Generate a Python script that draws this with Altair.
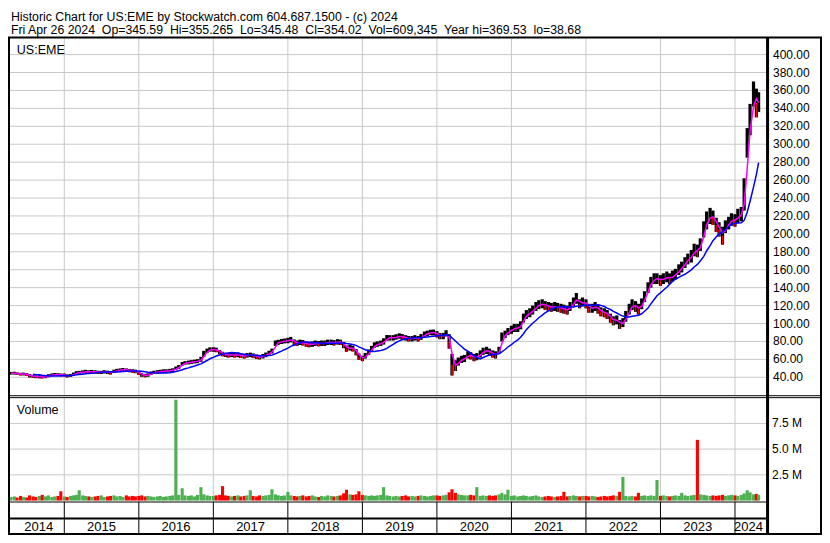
import datetime as dt
import altair as alt
import pandas as pd
import numpy as np

# ---------------- text ----------------
TITLE = "Historic Chart for US:EME by Stockwatch.com 604.687.1500 - (c) 2024"
QUOTE = ["Fri Apr 26 2024", "Op=345.59", "Hi=355.265", "Lo=345.48", "Cl=354.02",
         "Vol=609,345", "Year hi=369.53", "lo=38.68"]
SYMBOL = "US:EME"
VOL_TITLE = "Volume"

# ---------------- data (semi-monthly) ----------------
hi_2014 = [46.0, 46.2, 45.5, 45.0, 45.2, 44.6, 43.5, 42.8, 42.0, 42.3, 41.6, 42.0, 43.4, 44.3, 44.8, 44.6, 44.2]
lo_2014 = [43.0, 43.1, 42.6, 42.0, 42.1, 41.5, 39.8, 39.3, 39.0, 38.8, 38.7, 39.0, 40.0, 41.0, 41.5, 41.4, 40.9]
hi_2015 = [44.2, 43.3, 43.6, 45.3, 46.8, 47.2, 47.7, 48.3, 47.8, 48.2, 47.8, 47.3, 47.2, 47.9, 47.4, 47.0, 48.4, 49.4, 49.9, 50.3, 49.9, 49.3, 48.9, 48.5]
lo_2015 = [40.9, 39.8, 40.4, 41.8, 43.3, 43.8, 44.3, 44.8, 44.2, 44.8, 44.3, 43.7, 43.8, 44.2, 43.6, 43.1, 44.7, 45.7, 46.2, 46.8, 46.2, 45.7, 45.1, 44.6]
hi_2016 = [46.4, 44.5, 43.9, 44.4, 46.4, 47.3, 47.9, 48.4, 48.9, 48.9, 49.4, 50.0, 52.0, 53.6, 57.0, 58.0, 58.6, 59.1, 59.6, 60.2, 62.8, 69.5, 72.0, 73.4]
lo_2016 = [42.6, 40.5, 40.1, 40.6, 42.6, 43.7, 44.1, 44.6, 45.1, 45.1, 45.6, 46.0, 48.0, 49.4, 53.0, 54.0, 54.4, 54.9, 55.4, 55.8, 57.2, 62.5, 67.0, 68.6]
hi_2017 = [73.5, 73.0, 70.5, 68.5, 67.4, 67.0, 67.5, 67.0, 67.6, 66.5, 66.0, 67.0, 67.5, 66.6, 65.5, 65.0, 66.0, 67.6, 69.6, 72.0, 81.0, 81.8, 82.8, 83.2]
lo_2017 = [68.5, 68.0, 65.5, 63.5, 62.6, 62.0, 62.5, 62.0, 62.4, 61.5, 61.0, 62.0, 62.5, 61.4, 60.5, 60.0, 61.0, 62.4, 64.4, 66.5, 75.0, 76.2, 77.2, 77.8]
hi_2018 = [84.0, 85.0, 82.2, 81.0, 82.0, 81.5, 80.0, 79.5, 80.0, 81.0, 80.5, 81.0, 81.0, 82.0, 82.0, 81.5, 82.5, 82.0, 79.5, 75.5, 76.2, 75.2, 71.5, 66.5]
lo_2018 = [78.0, 79.0, 75.8, 75.0, 76.0, 75.5, 74.0, 73.5, 74.0, 75.0, 74.5, 75.0, 75.0, 76.0, 76.0, 75.5, 76.5, 76.0, 72.5, 68.5, 69.8, 68.8, 64.5, 59.5]
hi_2019 = [64.0, 67.2, 71.0, 75.0, 79.0, 80.0, 81.0, 83.5, 87.2, 87.0, 87.0, 88.0, 89.0, 88.2, 87.0, 86.0, 86.0, 87.0, 86.0, 88.2, 91.0, 92.0, 93.0, 93.2]
lo_2019 = [58.0, 60.8, 65.0, 69.0, 73.0, 74.0, 75.0, 76.5, 80.8, 81.0, 81.0, 82.0, 83.0, 81.8, 81.0, 80.0, 80.0, 81.0, 80.0, 81.8, 85.0, 86.0, 87.0, 86.8]
hi_2020 = [91.5, 89.5, 89.5, 92.5, 88.0, 66.0, 59.0, 62.0, 64.0, 65.0, 69.0, 68.0, 66.0, 67.0, 70.0, 73.0, 74.0, 72.0, 70.0, 69.0, 74.0, 90.0, 92.0, 95.0]
lo_2020 = [84.5, 82.5, 82.5, 85.5, 72.0, 42.0, 47.0, 53.0, 56.0, 57.0, 61.0, 60.0, 58.0, 59.0, 62.0, 65.0, 66.0, 64.0, 62.0, 61.0, 66.0, 80.0, 84.0, 87.0]
hi_2021 = [97.5, 99.5, 99.5, 102.5, 111.0, 115.0, 117.0, 120.0, 124.0, 126.0, 127.0, 125.0, 124.0, 123.0, 124.0, 123.0, 122.0, 121.0, 120.0, 124.0, 129.0, 134.0, 127.0, 129.0]
lo_2021 = [88.5, 90.5, 90.5, 93.5, 101.0, 105.0, 107.0, 110.0, 114.0, 116.0, 117.0, 115.0, 114.0, 113.0, 114.0, 113.0, 112.0, 111.0, 110.0, 114.0, 119.0, 122.0, 117.0, 119.0]
hi_2022 = [127, 122, 122, 124, 121, 118, 117, 115, 111, 108, 109, 104, 106, 114, 122, 127, 125, 122, 128, 136, 146, 152, 156, 156]
lo_2022 = [117, 112, 112, 114, 111, 108, 107, 105, 101, 98, 99, 94, 96, 102, 110, 115, 113, 110, 116, 124, 134, 140, 144, 144]
hi_2023 = [154, 156, 158, 156, 159, 161, 166, 169, 174, 178, 182, 189, 188, 195, 214, 225, 229, 226, 218, 213, 208, 215, 219, 223]
lo_2023 = [142, 144, 146, 144, 147, 149, 154, 157, 162, 166, 168, 175, 174, 181, 196, 205, 211, 210, 202, 197, 188, 201, 205, 209]
hi_2024 = [222, 228, 230, 262, 318, 345, 370, 362, 358]
lo_2024 = [208, 212, 214, 226, 285, 310, 342, 330, 336]

# volume, millions of shares
vol_2014 = [0.35, 0.4, 0.3, 0.45, 0.35, 0.3, 0.5, 0.4, 0.35, 0.45, 0.55, 0.4, 0.5, 0.35, 0.4, 0.45, 0.9]
vol_2015 = [0.4, 0.35, 0.45, 0.5, 0.55, 1.0, 0.5, 0.45, 0.4, 0.35, 0.4, 0.45, 0.5, 0.35, 0.4, 0.45, 0.5, 0.4, 0.45, 0.35, 0.5, 0.4, 0.45, 0.4]
vol_2016 = [0.45, 0.5, 0.4, 0.45, 0.4, 0.35, 0.4, 0.45, 0.35, 0.4, 0.45, 0.5, 9.8, 0.55, 1.2, 0.5, 0.45, 0.5, 0.4, 0.55, 1.3, 0.6, 0.5, 0.45]
vol_2017 = [0.45, 0.5, 0.55, 1.4, 0.5, 0.45, 0.4, 0.45, 0.5, 0.4, 0.45, 0.5, 1.0, 0.45, 0.4, 0.5, 0.45, 0.5, 0.55, 1.1, 0.6, 0.5, 0.45, 0.5]
vol_2018 = [0.85, 0.5, 0.45, 0.4, 0.45, 0.5, 0.4, 0.45, 0.5, 0.4, 0.35, 0.45, 0.4, 0.5, 0.45, 0.4, 0.45, 0.5, 0.7, 1.05, 0.6, 0.55, 0.6, 0.9]
vol_2019 = [0.55, 0.5, 0.45, 0.5, 0.45, 0.5, 0.55, 1.3, 0.5, 0.45, 0.4, 0.45, 0.4, 0.45, 0.5, 0.4, 0.45, 0.4, 0.45, 0.5, 0.45, 0.4, 0.45, 0.5]
vol_2020 = [0.5, 0.45, 0.5, 0.55, 0.8, 1.1, 0.75, 0.6, 0.55, 0.5, 0.5, 0.55, 0.5, 1.3, 0.45, 0.5, 0.45, 0.5, 0.45, 0.5, 0.6, 0.75, 0.6, 1.05]
vol_2021 = [0.45, 0.5, 0.4, 0.45, 0.5, 0.45, 0.4, 0.45, 0.5, 0.4, 0.35, 0.4, 0.45, 0.4, 0.35, 0.4, 0.45, 0.85, 0.4, 0.45, 0.5, 0.45, 0.4, 0.45]
vol_2022 = [0.45, 0.4, 0.45, 0.4, 0.35, 0.4, 0.45, 0.4, 0.45, 0.5, 0.45, 0.85, 2.3, 0.45, 0.4, 0.45, 0.4, 0.75, 0.45, 0.5, 0.45, 0.5, 0.45, 2.0]
vol_2023 = [0.45, 0.5, 0.45, 0.4, 0.45, 0.5, 0.45, 0.75, 0.5, 0.45, 0.5, 0.55, 5.9, 0.6, 0.55, 0.5, 0.45, 0.5, 0.45, 0.5, 0.55, 0.45, 0.5, 0.55]
vol_2024 = [0.5, 0.45, 0.55, 0.7, 1.0, 0.8, 0.6, 0.65, 0.55]

YEARS = list(range(2014, 2025))
PRICE_TICKS = list(range(40, 401, 20))
VOL_TICKS = [2.5, 5.0, 7.5]
VOL_LABELS = ["2.5 M", "5.0 M", "7.5 M"]

# ---------------- build table ----------------
dates = [(2014, 4, 15)]
for y in range(2014, 2025):
    for m in range(1, 13):
        if (2014, 5) <= (y, m) <= (2024, 4):
            dates += [(y, m, 1), (y, m, 15)]
dates.append((2024, 4, 26))


def frac_year(y, m, d):
    d0 = dt.date(y, 1, 1)
    n = (dt.date(y + 1, 1, 1) - d0).days
    return y + (dt.date(y, m, d) - d0).days / n


hi = hi_2014 + hi_2015 + hi_2016 + hi_2017 + hi_2018 + hi_2019 + hi_2020 + hi_2021 + hi_2022 + hi_2023 + hi_2024
lo = lo_2014 + lo_2015 + lo_2016 + lo_2017 + lo_2018 + lo_2019 + lo_2020 + lo_2021 + lo_2022 + lo_2023 + lo_2024
vol = vol_2014 + vol_2015 + vol_2016 + vol_2017 + vol_2018 + vol_2019 + vol_2020 + vol_2021 + vol_2022 + vol_2023 + vol_2024

df = pd.DataFrame({"t": [frac_year(*d) for d in dates], "hi": hi, "lo": lo, "vol": vol})
df["mid"] = (df["hi"] + df["lo"]) / 2
df["dir"] = np.where(df["mid"].diff().fillna(0) >= 0, "up", "down")
df["idx"] = range(len(df))

# ---------------- geometry (reference pixel grid 830x543 scaled to fit) ----------------
W, H = 814, 527
SX, SY = W / 830, H / 543


def px(v):
    return v * SX


def py(v):
    return v * SY


FONT = "Liberation Sans"
GRID = "#c8c8c8"
T0 = 2015 - 53 / 77
T1 = 2015 + (774 - 53) / 77

XS = alt.Scale(domain=[T0, T1], range=[0, px(774)], nice=False, zero=False)
PS = alt.Scale(domain=[40, 400], range=[py(380.5), py(48)], nice=False, zero=False)
VS = alt.Scale(domain=[0, 10], range=[py(507.5), py(401.5)], nice=False, zero=False)

X = alt.X("t:Q", scale=XS, axis=None)

base = alt.Chart(df)
years_df = pd.DataFrame({"t": YEARS[1:]})

vgrid_p = alt.Chart(years_df).mark_rule(color=GRID, strokeWidth=1).encode(
    x=X, y=alt.value(py(31)), y2=alt.value(py(399)))
vgrid_v = alt.Chart(years_df).mark_rule(color=GRID, strokeWidth=1).encode(
    x=X, y=alt.value(py(402)), y2=alt.value(py(509)))
hgrid_p = alt.Chart(pd.DataFrame({"p": PRICE_TICKS})).mark_rule(color=GRID, strokeWidth=1).encode(
    y=alt.Y("p:Q", scale=PS, axis=None), x=alt.value(0), x2=alt.value(px(774)))
hgrid_v = alt.Chart(pd.DataFrame({"v": VOL_TICKS})).mark_rule(color=GRID, strokeWidth=1).encode(
    y=alt.Y("v:Q", scale=VS, axis=None), x=alt.value(0), x2=alt.value(px(774)))

vol_bars = base.mark_bar(size=3.1).encode(
    x=X,
    y=alt.Y("vol:Q", scale=VS, axis=None),
    color=alt.Color("dir:N", scale=alt.Scale(domain=["up", "down"], range=["#4caf50", "#ff0000"]), legend=None),
)

price_bars = base.mark_rule(color="black", strokeWidth=3.2).encode(
    x=X, y=alt.Y("lo:Q", scale=PS, axis=None), y2="hi:Q")
price_red = base.transform_filter("datum.dir == 'down'").mark_rule(color="#ff0000", strokeWidth=1.4).encode(
    x=X, y=alt.Y("lo:Q", scale=PS, axis=None), y2="mid:Q")

ma_fast = base.transform_window(ma="mean(mid)", frame=[-1, 0], sort=[alt.SortField("t")]).mark_line(
    color="#ff00ff", strokeWidth=1.5).encode(x=X, y=alt.Y("ma:Q", scale=PS, axis=None))
ma_slow = base.transform_window(ma="mean(mid)", frame=[-9, 0], sort=[alt.SortField("t")]).transform_filter(
    "datum.idx >= 7").mark_line(color="#0000ff", strokeWidth=1.5).encode(
    x=X, y=alt.Y("ma:Q", scale=PS, axis=None))

price_labels = alt.Chart(pd.DataFrame({"p": PRICE_TICKS, "label": [f"{p:.2f}" for p in PRICE_TICKS]})).mark_text(
    align="left", baseline="middle", font=FONT, fontSize=12, color="black").encode(
    y=alt.Y("p:Q", scale=PS, axis=None), x=alt.value(px(780)), text="label:N")
vol_labels = alt.Chart(pd.DataFrame({"v": VOL_TICKS, "label": VOL_LABELS})).mark_text(
    align="left", baseline="middle", font=FONT, fontSize=12, color="black").encode(
    y=alt.Y("v:Q", scale=VS, axis=None), x=alt.value(px(779)), text="label:N")

centers = [(max(y, T0) + min(y + 1, T1)) / 2 for y in YEARS]
year_labels = alt.Chart(pd.DataFrame({"tc": centers, "label": [str(y) for y in YEARS]})).mark_text(
    align="center", baseline="middle", font=FONT, fontSize=13, color="black").encode(
    x=alt.X("tc:Q", scale=XS, axis=None), y=alt.value(py(535)), text="label:N")
year_ticks = alt.Chart(years_df).mark_rule(color="black", strokeWidth=1).encode(
    x=X, y=alt.value(py(509)), y2=alt.value(py(542)))


def label(txt, x, y, size=12.3):
    return alt.Chart(pd.DataFrame({"s": [txt]})).mark_text(
        align="left", baseline="alphabetic", font=FONT, fontSize=size, color="black").encode(
        x=alt.value(px(x)), y=alt.value(py(y)), text="s:N")


def hline(y, x1, x2, w=1):
    return alt.Chart(alt.Data(values=[{}])).mark_rule(color="black", strokeWidth=w).encode(
        x=alt.value(px(x1)), x2=alt.value(px(x2)), y=alt.value(py(y)))


def vline(x, y1, y2, w=1):
    return alt.Chart(alt.Data(values=[{}])).mark_rule(color="black", strokeWidth=w).encode(
        x=alt.value(px(x)), y=alt.value(py(y1)), y2=alt.value(py(y2)))


header1 = label(TITLE, 3, 13)
header2 = label("\u00a0\u00a0".join(QUOTE), 3, 26.5)
sym = label(SYMBOL, 9, 47, 12.5)
vol_t = label(VOL_TITLE, 9, 418, 12.5)

frame = [
    hline(30.5, 0, 830, 2),
    hline(399.5, 0, 830, 1),
    hline(401.5, 0, 830, 1),
    hline(509, 0, 774, 1),
    hline(526, 0, 774, 2),
    hline(542, 0, 830, 2),
    vline(1, 30, 543, 2),
    vline(829, 30, 543, 2),
    vline(774.5, 30, 543, 3),
]

chart = alt.layer(
    vgrid_p, vgrid_v, hgrid_p, hgrid_v,
    vol_bars, price_bars, price_red, ma_fast, ma_slow,
    price_labels, vol_labels, year_labels, year_ticks,
    header1, header2, sym, vol_t, *frame,
).resolve_scale(y="independent").properties(
    width=W, height=H, padding=0, autosize="none", background="white"
).configure_view(stroke=None)

chart.save("out.html", embed_options={"renderer": "svg", "actions": False})
